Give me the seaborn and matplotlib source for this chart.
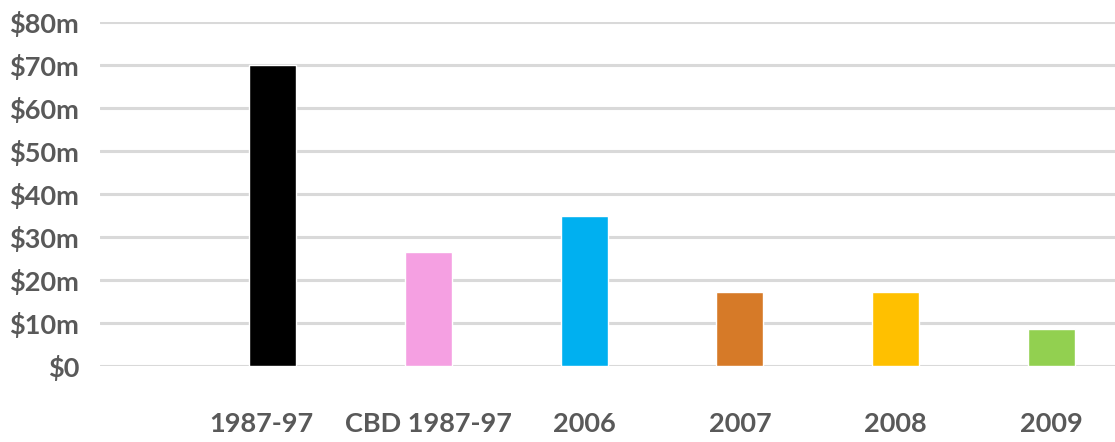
import matplotlib
matplotlib.use("Agg")
import matplotlib.pyplot as plt
import matplotlib.transforms as mtransforms
import seaborn as sns
import pandas as pd

# Spending by period, in $ millions
periods = ["1987-97", "CBD 1987-97", "2006", "2007", "2008", "2009"]
spend_m = [70, 26.5, 35, 17.2, 17.2, 8.6]
bar_colors = ["#000000", "#F5A0E2", "#00B0F0", "#D67A28", "#FFC000", "#92D050"]
y_ticks = [0, 10, 20, 30, 40, 50, 60, 70, 80]
y_tick_labels = ["$0", "$10m", "$20m", "$30m", "$40m", "$50m", "$60m", "$70m", "$80m"]

df = pd.DataFrame({"period": periods, "spend": spend_m})

sns.set_theme(style="white")
plt.rcParams["font.family"] = ["Lato", "DejaVu Sans"]

fig = plt.figure(figsize=(11.15, 4.42), dpi=100)
ax = fig.add_axes([0.0897, 0.172, 0.9103, 0.778])

sns.barplot(data=df, x="period", y="spend", hue="period",
            palette=dict(zip(periods, bar_colors)), width=0.30,
            legend=False, saturation=1, ax=ax, zorder=3)

ax.set_ylim(0, 80)
ax.set_xlim(-1.11, 5.41)
ax.set_yticks(y_ticks)
ax.set_yticklabels(y_tick_labels)
ax.set_xlabel("")
ax.set_ylabel("")

ax.yaxis.grid(True, color="#D9D9D9", linewidth=2.2, zorder=0)
ax.xaxis.grid(False)
for s in ax.spines.values():
    s.set_visible(False)

ax.tick_params(axis="y", length=0, pad=15, labelsize=19.5, labelcolor="#595959")
ax.tick_params(axis="x", length=0, pad=33, labelsize=19.5, labelcolor="#595959")
for lbl in ax.get_yticklabels() + ax.get_xticklabels():
    lbl.set_fontweight("bold")

# first category label sits slightly left of its bar
first = ax.get_xticklabels()[0]
first.set_transform(first.get_transform() +
                    mtransforms.ScaledTranslation(-11 / 100, 0, fig.dpi_scale_trans))

fig.savefig("out.png", dpi=100)
